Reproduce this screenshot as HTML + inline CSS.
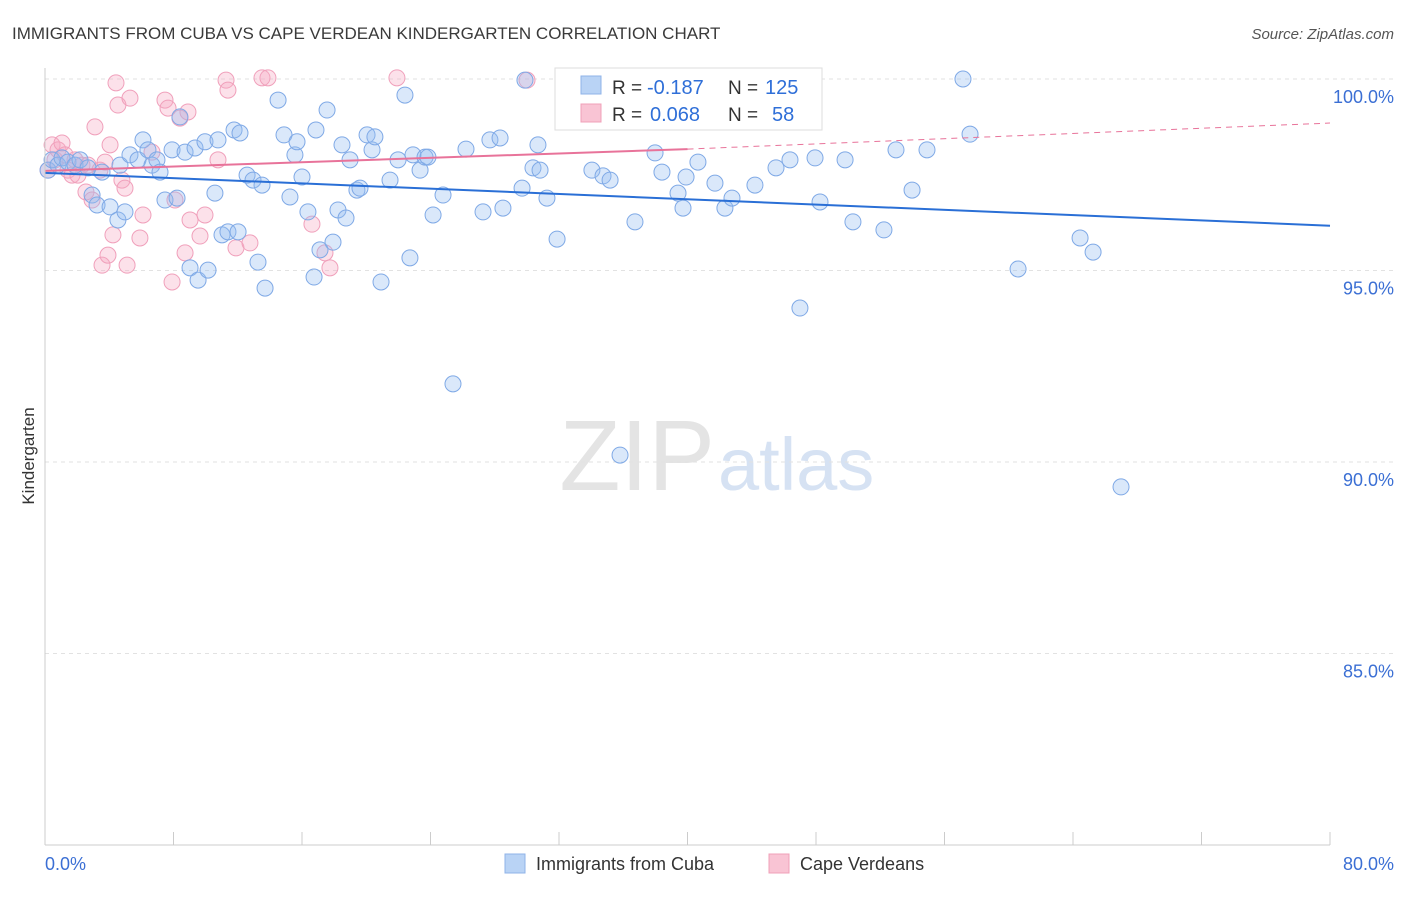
<!DOCTYPE html>
<html><head><meta charset="utf-8"><style>
body{margin:0;background:#fff;font-family:"Liberation Sans",sans-serif;}
svg text{font-family:"Liberation Sans",sans-serif;}
</style></head><body>
<svg id="c" width="1406" height="892">
<text x="12" y="39" font-size="17" fill="#3a3a3a">IMMIGRANTS FROM CUBA VS CAPE VERDEAN KINDERGARTEN CORRELATION CHART</text>
<text x="1394" y="39" font-size="15" fill="#555" text-anchor="end" font-style="italic">Source: ZipAtlas.com</text>
<text x="715" y="490" font-size="100" fill="#e4e4e4" text-anchor="end" font-family="Liberation Serif">ZIP</text>
<text x="718" y="490" font-size="74" fill="#d6e2f3">atlas</text>
<text x="34" y="456" font-size="17" fill="#333" transform="rotate(-90 34 456)" text-anchor="middle">Kindergarten</text>
<g id="grid"></g><g id="pts"></g><g id="lines"></g>
<line x1="45" y1="68" x2="45" y2="845" stroke="#ccc"/>
<line x1="45" y1="845" x2="1330" y2="845" stroke="#ccc"/>
<text x="45" y="870" font-size="18" fill="#3b6fd4">0.0%</text>
<text x="1394" y="870" font-size="18" fill="#3b6fd4" text-anchor="end">80.0%</text>
<g>
<rect x="555" y="68" width="267" height="62" fill="#fff" stroke="#ddd"/>
<rect x="581" y="76" width="20" height="18" fill="#b9d3f5" stroke="#8fb3e8"/>
<rect x="581" y="104" width="20" height="18" fill="#f9c4d4" stroke="#f0a0b8"/>
<text x="612" y="94" font-size="19" fill="#333">R =</text>
<text x="647" y="94" font-size="20" fill="#2f6fd8">-0.187</text>
<text x="728" y="94" font-size="19" fill="#333">N =</text>
<text x="765" y="94" font-size="20" fill="#2f6fd8">125</text>
<text x="612" y="121" font-size="19" fill="#333">R =</text>
<text x="650" y="121" font-size="20" fill="#2f6fd8">0.068</text>
<text x="728" y="121" font-size="19" fill="#333">N =</text>
<text x="772" y="121" font-size="20" fill="#2f6fd8">58</text>
</g>
<g><rect x="505" y="854" width="20" height="19" fill="#b9d3f5" stroke="#8fb3e8"/><text x="536" y="870" font-size="18" fill="#333">Immigrants from Cuba</text></g>
<g><rect x="769" y="854" width="20" height="19" fill="#f9c4d4" stroke="#f0a0b8"/><text x="800" y="870" font-size="18" fill="#333">Cape Verdeans</text></g>
</svg>
<script>
const yTicks=[100,95,90,85];
const xTickVals=[0,8,16,24,32,40,48,56,64,72,80];
const bluePx=[[48,170],[52,160],[58,165],[62,158],[68,162],[75,165],[80,160],[88,168],[92,195],[97,205],[102,172],[110,207],[118,220],[125,212],[120,165],[130,155],[138,160],[143,140],[148,150],[152,165],[157,160],[160,172],[165,200],[172,150],[177,198],[180,117],[185,152],[190,268],[195,148],[198,280],[205,142],[208,270],[215,193],[218,140],[222,235],[228,232],[234,130],[238,232],[240,133],[247,175],[253,180],[258,262],[262,185],[265,288],[278,100],[284,135],[290,197],[295,155],[297,142],[302,177],[308,212],[316,130],[314,277],[320,250],[327,110],[333,242],[338,210],[342,145],[346,218],[350,160],[357,190],[360,188],[367,135],[372,150],[375,137],[381,282],[390,180],[398,160],[405,95],[410,258],[413,155],[420,170],[425,157],[428,157],[433,215],[443,195],[453,384],[466,149],[483,212],[490,140],[500,138],[503,208],[522,188],[525,80],[533,168],[538,145],[540,170],[547,198],[557,239],[580,122],[592,170],[603,176],[610,180],[620,455],[628,80],[635,222],[655,153],[662,172],[678,193],[683,208],[686,177],[698,162],[715,183],[725,208],[732,198],[755,185],[776,168],[790,160],[800,308],[815,158],[820,202],[845,160],[853,222],[884,230],[896,150],[912,190],[927,150],[963,79],[970,134],[1018,269],[1080,238],[1093,252],[1121,487]];
const pinkPx=[[48,170],[52,145],[55,160],[58,150],[62,143],[65,155],[68,170],[72,175],[75,160],[78,175],[82,165],[86,192],[88,165],[92,200],[95,127],[100,170],[102,265],[105,162],[108,255],[110,145],[113,235],[116,83],[118,105],[122,180],[125,188],[127,265],[130,98],[140,238],[143,215],[152,152],[165,100],[168,108],[172,282],[175,200],[180,118],[185,253],[188,112],[190,220],[200,236],[205,215],[218,160],[226,80],[228,90],[236,248],[250,243],[262,78],[268,78],[312,224],[325,253],[330,268],[397,78],[527,80]];
const blueX=bluePx.map(p=>+((p[0]-45)/16.0625).toFixed(2)), blueY=bluePx.map(p=>+(100-(p[1]-79)/38.3).toFixed(2));
const pinkX=pinkPx.map(p=>+((p[0]-45)/16.0625).toFixed(2)), pinkY=pinkPx.map(p=>+(100-(p[1]-79)/38.3).toFixed(2));
const blueTrend=[[0,97.55],[80,96.17]];
const pinkTrend=[[0,97.6],[40,98.17],[80,98.85]];
const sx=v=>45+v*16.0625, sy=v=>79+(100-v)*38.3;
const NS="http://www.w3.org/2000/svg";
function mk(t,a,p){const e=document.createElementNS(NS,t);for(const k in a)e.setAttribute(k,a[k]);document.getElementById(p).appendChild(e);return e;}
yTicks.forEach(v=>{
 const l=mk('line',{x1:45,x2:1394,y1:sy(v),y2:sy(v),stroke:'#e2e2e2','stroke-dasharray':'4,4'},'grid');
 
 
 const t=mk('text',{x:1394,y:sy(v)+24,'font-size':18,fill:'#3b6fd4','text-anchor':'end'},'grid');t.textContent=v.toFixed(1)+'%';
 
 
});
xTickVals.forEach(v=>{
 const l=mk('line',{x1:sx(v),x2:sx(v),y1:832,y2:845,stroke:'#ccc'},'grid');
 
 
});
pinkX.forEach((x,i)=>{
 const c=mk('circle',{cx:sx(x),cy:sy(pinkY[i]),r:8,fill:'rgba(246,168,194,0.35)',stroke:'#f0a0bb','stroke-width':1},'pts');
 
 
});
blueX.forEach((x,i)=>{
 const c=mk('circle',{cx:sx(x),cy:sy(blueY[i]),r:8,fill:'rgba(150,190,240,0.35)',stroke:'#7fa9e6','stroke-width':1},'pts');
 
 
});
const bl=mk('line',{x1:sx(blueTrend[0][0]),y1:sy(blueTrend[0][1]),x2:sx(blueTrend[1][0]),y2:sy(blueTrend[1][1]),stroke:'#2a6fd6','stroke-width':2},'lines');


const pl=mk('line',{x1:sx(pinkTrend[0][0]),y1:sy(pinkTrend[0][1]),x2:sx(pinkTrend[1][0]),y2:sy(pinkTrend[1][1]),stroke:'#e8739a','stroke-width':2},'lines');


const pd=mk('line',{x1:sx(pinkTrend[1][0]),y1:sy(pinkTrend[1][1]),x2:sx(pinkTrend[2][0]),y2:sy(pinkTrend[2][1]),stroke:'#e8739a','stroke-width':1,'stroke-dasharray':'6,5'},'lines');


</script>
</body></html>
